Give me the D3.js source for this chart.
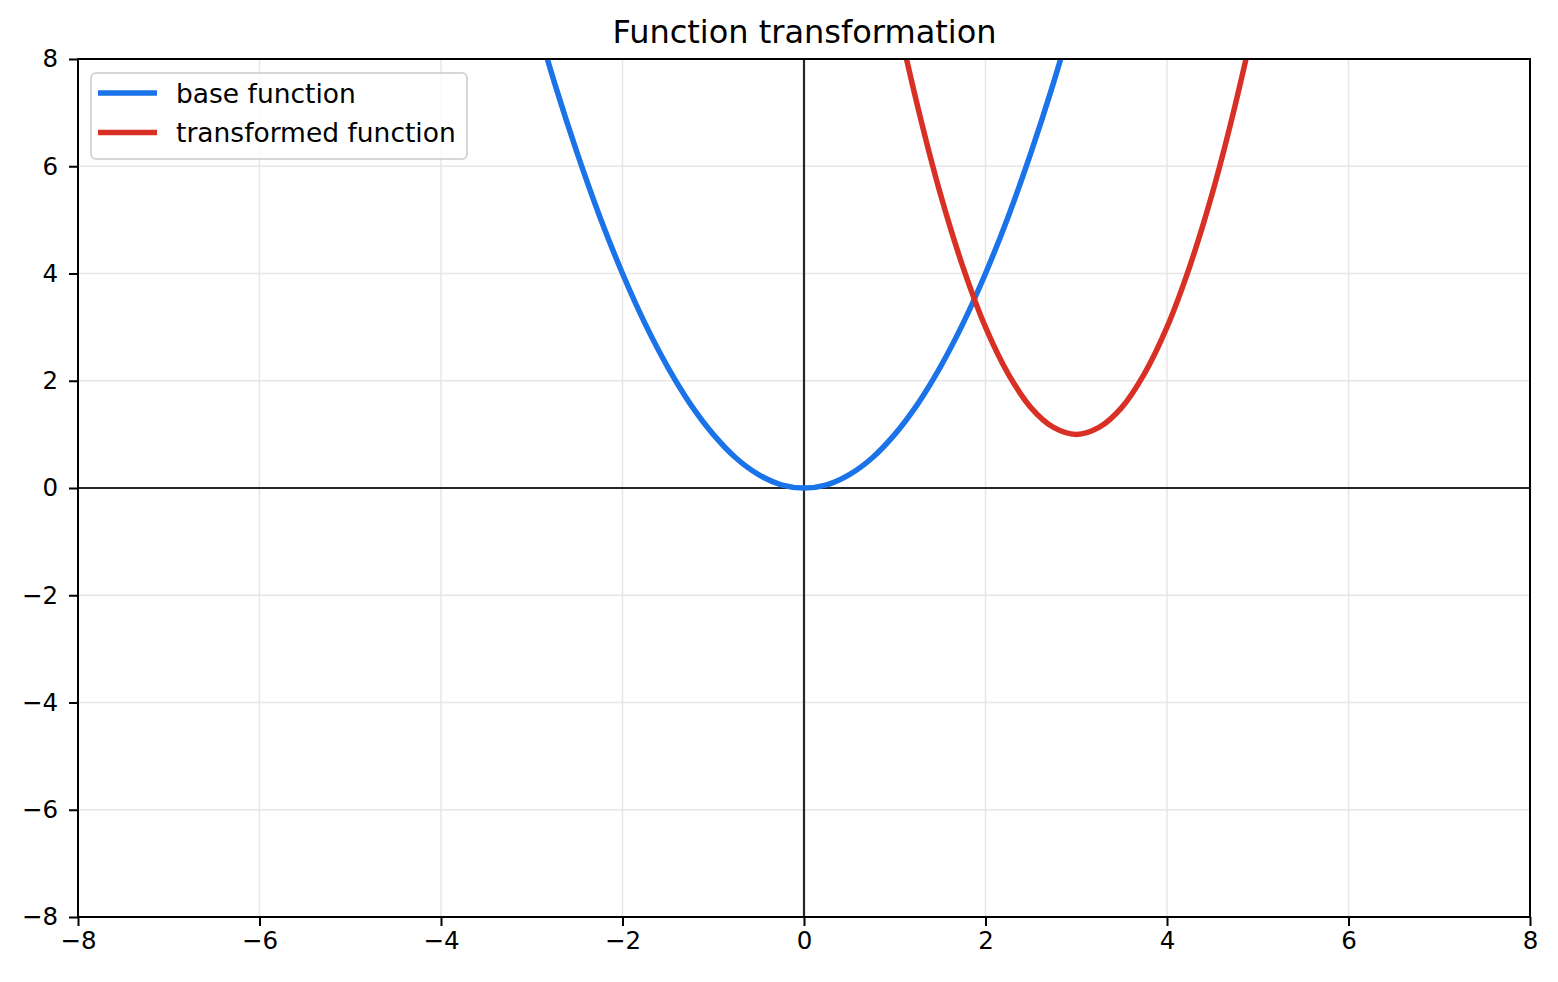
<!DOCTYPE html>
<html><head><meta charset="utf-8">
<script src="https://cdn.jsdelivr.net/npm/d3@7"></script>
<style>body{margin:0;background:#fff}svg{display:block}text{font-family:"DejaVu Sans",sans-serif}</style>
</head><body>
<svg id="c" width="1558" height="982"></svg>
<script>
const title = "Function transformation";
const seriesNames = ["base function", "transformed function"];
const seriesColors = ["#1a73e8", "#d93025"];
const baseX = [-3,-2.75,-2.5,-2.25,-2,-1.75,-1.5,-1.25,-1,-0.75,-0.5,-0.25,0,0.25,0.5,0.75,1,1.25,1.5,1.75,2,2.25,2.5,2.75,3];
const baseY = [9,7.56,6.25,5.06,4,3.06,2.25,1.56,1,0.56,0.25,0.06,0,0.06,0.25,0.56,1,1.56,2.25,3.06,4,5.06,6.25,7.56,9];
const transX = [0.75,1,1.25,1.5,1.75,2,2.25,2.5,2.75,3,3.25,3.5,3.75,4,4.25,4.5,4.75,5,5.25];
const transY = [11.13,9,7.13,5.5,4.13,3,2.13,1.5,1.13,1,1.13,1.5,2.13,3,4.13,5.5,7.13,9,11.13];
const xTicks = [-8,-6,-4,-2,0,2,4,6,8];
const yTicks = [-8,-6,-4,-2,0,2,4,6,8];

const svg = d3.select("#c");
const L=78, R=1530, T=59, B=917;
const x = d3.scaleLinear().domain([-8,8]).range([L,R]);
const y = d3.scaleLinear().domain([-8,8]).range([B,T]);

svg.append("defs").append("clipPath").attr("id","clip")
  .append("rect").attr("x",L).attr("y",T).attr("width",R-L).attr("height",B-T);

// grid
const g = svg.append("g");
g.selectAll(".gx").data(xTicks).enter().append("line")
  .attr("x1",d=>x(d)).attr("x2",d=>x(d)).attr("y1",T).attr("y2",B)
  .attr("stroke","#e6e6e6").attr("stroke-width",1.5);
g.selectAll(".gy").data(yTicks).enter().append("line")
  .attr("y1",d=>y(d)).attr("y2",d=>y(d)).attr("x1",L).attr("x2",R)
  .attr("stroke","#e6e6e6").attr("stroke-width",1.5);

// zero axes
svg.append("line").attr("x1",x(0)).attr("x2",x(0)).attr("y1",T).attr("y2",B).attr("stroke","#262626").attr("stroke-width",2.2);
svg.append("line").attr("y1",y(0)).attr("y2",y(0)).attr("x1",L).attr("x2",R).attr("stroke","#262626").attr("stroke-width",2.2);

// curves
const line = d3.line().x(d=>x(d[0])).y(d=>y(d[1])).curve(d3.curveCatmullRom.alpha(0.5));
const series = [d3.zip(baseX, baseY), d3.zip(transX, transY)];
const cg = svg.append("g").attr("clip-path","url(#clip)");
series.forEach((s,i)=>{
  cg.append("path").attr("d",line(s)).attr("fill","none")
    .attr("stroke",seriesColors[i]).attr("stroke-width",5.5);
});

// spines
svg.append("rect").attr("x",L).attr("y",T).attr("width",R-L).attr("height",B-T)
  .attr("fill","none").attr("stroke","#000").attr("stroke-width",2);

// axes
const fmt = d => (d<0? "\u2212"+Math.abs(d) : ""+d);
const xa = svg.append("g").attr("transform",`translate(0,${B})`)
  .call(d3.axisBottom(x).tickValues(xTicks).tickFormat(fmt).tickSize(9).tickPadding(6));
const ya = svg.append("g").attr("transform",`translate(${L},0)`)
  .call(d3.axisLeft(y).tickValues(yTicks).tickFormat(fmt).tickSize(9).tickPadding(11));
[xa,ya].forEach(a=>{
  a.select(".domain").remove();
  a.selectAll("line").attr("stroke","#000").attr("stroke-width",2);
  a.selectAll("text").attr("font-size",24.5).attr("fill","#000").attr("font-family","DejaVu Sans");
});

// title
svg.append("text").attr("x",(L+R)/2+0.5).attr("y",43).attr("text-anchor","middle")
  .attr("font-size",32).attr("fill","#000").text(title);

// legend
const lg = svg.append("g");
lg.append("rect").attr("x",91).attr("y",73).attr("width",376).attr("height",86).attr("rx",5)
  .attr("fill","#fff").attr("fill-opacity",0.8).attr("stroke","#d6d6d6").attr("stroke-width",2);
seriesNames.forEach((n,i)=>{
  const yy = 93 + i*39.5;
  lg.append("line").attr("x1",98).attr("x2",157).attr("y1",yy).attr("y2",yy)
    .attr("stroke",seriesColors[i]).attr("stroke-width",5.5);
  lg.append("text").attr("x",176).attr("y",yy+9.5).attr("font-size",26.5).attr("fill","#000").text(n);
});
</script>
</body></html>
